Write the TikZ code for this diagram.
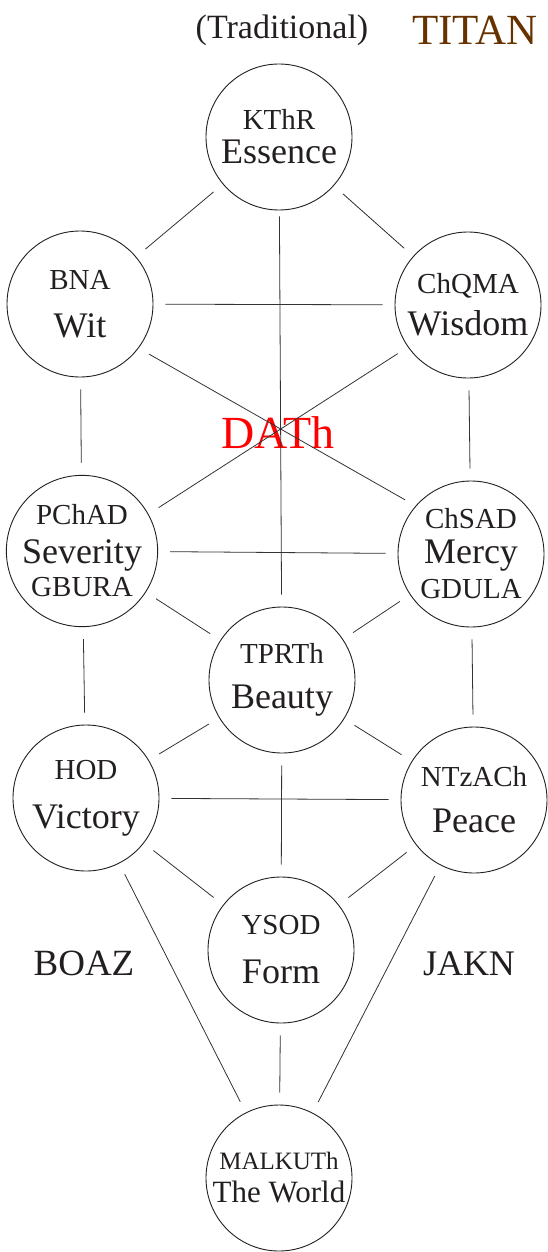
\documentclass[tikz,border=0pt]{standalone}
\usepackage{fontspec}
\setmainfont{Liberation Serif}
\usepackage{xcolor}
\usepackage{tikz}
\usetikzlibrary{positioning}
\definecolor{treeink}{HTML}{231F20}
\definecolor{treeline}{HTML}{333333}
\definecolor{titanbrown}{HTML}{663300}
\newcommand{\hebname}{\fontsize{29}{30}\selectfont}
\newcommand{\engname}{\fontsize{36}{38}\selectfont}
\newcommand{\rowgap}[1]{\fontsize{36}{#1}\selectfont}

\begin{document}
\begin{tikzpicture}[x=1pt, y=-1pt, every node/.style={align=center, text=treeink},
  sephira/.style={draw=treeink, line width=0.9pt, circle, minimum size=146pt, inner sep=0pt},
  channel/.style={draw=treeline, line width=0.8pt, shorten <=12pt, shorten >=12pt}]
  \useasboundingbox (0,0) rectangle (547,1252);
  % titles
  \node (trad) at (282,30) {\fontsize{34}{36}\selectfont (Traditional)};
  \node[text=titanbrown] (titan) at (475,30) {\fontsize{43}{45}\selectfont TITAN};
  % the ten circles
  \node[sephira, font=\rowgap{34}] (kthr) at (279,137) {\hebname KThR\\\engname Essence};
  \node[sephira, font=\rowgap{48}] (bna) at (80,304) {\hebname BNA\\\engname Wit};
  \node[sephira, font=\rowgap{42}] (chqma) at (468,305) {\hebname ChQMA\\\engname Wisdom};
  \node[sephira, font=\rowgap{39}] (pchad) at (82,551) {\hebname PChAD\\\engname Severity\\[-6pt]\hebname GBURA};
  \node[sephira, font=\rowgap{35}] (chsad) at (471,554) {\hebname ChSAD\\\engname Mercy\\\hebname GDULA};
  \node[sephira, font=\rowgap{45}] (tprth) at (282,680) {\hebname TPRTh\\\engname Beauty};
  \node[sephira, font=\rowgap{49}] (hod) at (86,798) {\hebname HOD\\\engname Victory};
  \node[sephira, font=\rowgap{46}] (ntzach) at (474,800) {\hebname NTzACh\\\engname Peace};
  \node[sephira, font=\rowgap{49}] (ysod) at (281,950) {\hebname YSOD\\\engname Form};
  \node[sephira, font=\rowgap{33}] (malkuth) at (279,1178) {\fontsize{25}{26}\selectfont MALKUTh\\\fontsize{31}{32}\selectfont The World};
  % hidden one and the pillars
  \node[text=red] (dath) at (278,433) {\fontsize{46}{48}\selectfont DATh};
  \node (boaz) at (84,963) {\fontsize{37}{38}\selectfont BOAZ};
  \node (jakn) at (469,964) {\fontsize{36}{38}\selectfont JAKN};
  % paths
  \draw[channel] (kthr) -- (bna);
  \draw[channel] (kthr) -- (chqma);
  \draw[channel, shorten <=6pt] (kthr) -- (tprth);
  \draw[channel] (bna) -- (chqma);
  \draw[channel] (bna) -- (pchad);
  \draw[channel] (chqma) -- (chsad);
  \draw[channel] (bna.-37) -- (chsad.139);
  \draw[channel] (chqma.-145) -- (pchad.29);
  \draw[channel] (pchad) -- (chsad);
  \draw[channel] (pchad) -- (tprth);
  \draw[channel] (chsad) -- (tprth);
  \draw[channel] (pchad) -- (hod);
  \draw[channel] (chsad) -- (ntzach);
  \draw[channel] (tprth) -- (hod);
  \draw[channel] (tprth) -- (ntzach);
  \draw[channel] (tprth) -- (ysod);
  \draw[channel] (hod) -- (ntzach);
  \draw[channel] (hod) -- (ysod);
  \draw[channel] (ntzach) -- (ysod);
  \draw[channel] (hod) -- (malkuth);
  \draw[channel] (ntzach) -- (malkuth);
  \draw[channel] (ysod) -- (malkuth);
\end{tikzpicture}
\end{document}
